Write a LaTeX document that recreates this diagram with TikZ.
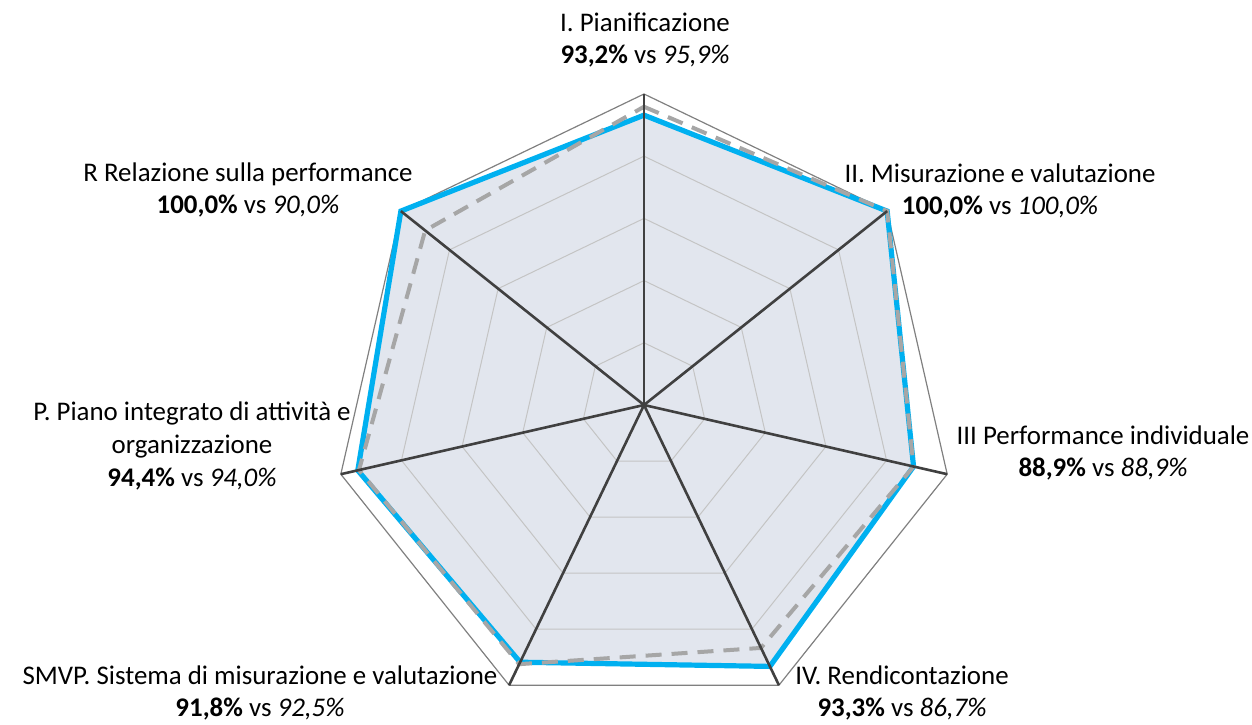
\documentclass[tikz,border=0pt]{standalone}
\usepackage{fontspec}
\setmainfont{Carlito}
\usetikzlibrary{positioning}
\usetikzlibrary{calc}
\definecolor{serieblu}{RGB}{0,176,240}
\definecolor{seriegrigia}{RGB}{166,166,166}
\definecolor{riempimento}{RGB}{226,230,238}
\definecolor{assi}{RGB}{64,64,64}
\definecolor{griglia}{RGB}{196,196,196}
\definecolor{bordo}{RGB}{128,128,128}

\begin{document}
\begin{tikzpicture}[x=0.5bp,y=0.5bp]
	\tikzstyle{etichetta} = [align=center,inner sep=0pt,font=\fontsize{13.5}{16.5}\selectfont]
	\tikzstyle{asse} = [draw=assi,line width=1.3bp]
	\tikzstyle{anello} = [draw=griglia,line width=0.5bp]
	\tikzstyle{attuale} = [draw=serieblu,line width=2.6bp,line join=miter]
	\tikzstyle{precedente} = [draw=seriegrigia,line width=2bp,dash pattern=on 8bp off 5bp]

	\useasboundingbox (0,0) rectangle (1252,724);
	\coordinate (O) at (644,319);

	% vertici esterni e punti delle due serie
	\foreach \i in {0,...,6}
		\coordinate (v\i) at ($(O)+({90-\i*360/7}:311)$);
	\foreach \v [count=\i from 0] in {93.2,100,88.9,93.3,91.8,94.4,100}
		\coordinate (b\i) at ($(O)+({90-\i*360/7}:{3.11*\v})$);
	\foreach \v [count=\i from 0] in {95.9,100,88.9,86.7,92.5,94.0,90.0}
		\coordinate (g\i) at ($(O)+({90-\i*360/7}:{3.11*\v})$);

	\fill[riempimento] (b0) -- (b1) -- (b2) -- (b3) -- (b4) -- (b5) -- (b6) -- cycle;

	% griglia
	\foreach \r in {62.2,124.4,186.6,248.8}
		\draw[anello] ($(O)+(90:\r)$) \foreach \i in {1,...,6} {-- ($(O)+({90-\i*360/7}:\r)$)} -- cycle;
	\draw[bordo,line width=0.6bp] (v0) -- (v1) -- (v2) -- (v3) -- (v4) -- (v5) -- (v6) -- cycle;

	\draw[attuale] (b0) -- (b1) -- (b2) -- (b3) -- (b4) -- (b5) -- (b6) -- cycle;
	\draw[precedente] (g0) -- (g1) -- (g2) -- (g3) -- (g4) -- (g5) -- (g6) -- cycle;

	\foreach \i in {0,...,6}
		\draw[asse] (O) -- (v\i);

	% etichette
	\node[etichetta] (lblI) at (645,684) {I. Pianificazione\\\textbf{93,2\%} vs \textit{95,9\%}};
	\node[etichetta] (lblII) at (1000,533) {II. Misurazione e valutazione\\\textbf{100,0\%} vs \textit{100,0\%}};
	\node[etichetta] (lblIII) at (1103,271) {III Performance individuale\\\textbf{88,9\%} vs \textit{88,9\%}};
	\node[etichetta] (lblIV) at (902,31) {IV. Rendicontazione\\\textbf{93,3\%} vs \textit{86,7\%}};
	\node[etichetta] (lblSMVP) at (260,31) {SMVP. Sistema di misurazione e valutazione\\\textbf{91,8\%} vs \textit{92,5\%}};
	\node[etichetta] (lblP) at (192,278) {P. Piano integrato di attività e\\organizzazione\\\textbf{94,4\%} vs \textit{94,0\%}};
	\node[etichetta] (lblR) at (248,534) {R Relazione sulla performance\\\textbf{100,0\%} vs \textit{90,0\%}};
\end{tikzpicture}
\end{document}
